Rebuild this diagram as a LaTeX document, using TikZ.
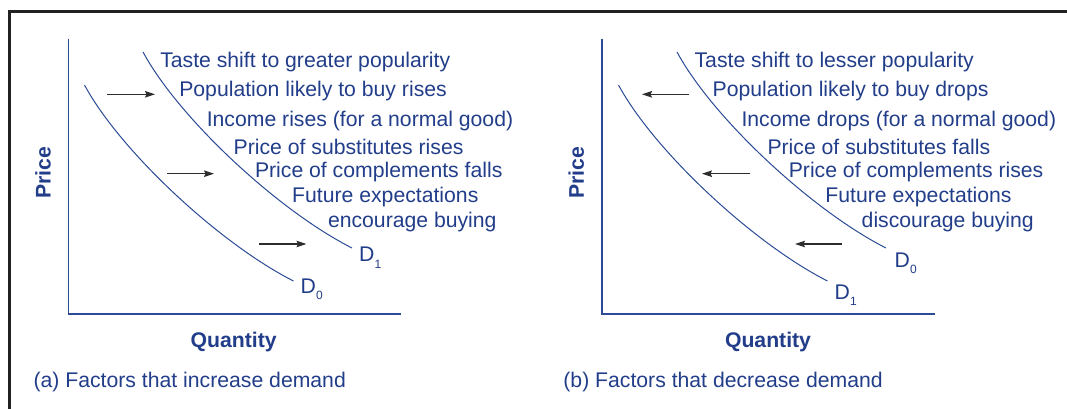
\documentclass[tikz,border=0pt]{standalone}
\usepackage{fontspec}
\setmainfont{Liberation Sans}
\usetikzlibrary{arrows.meta}
\definecolor{txtblue}{RGB}{34,62,138}
\definecolor{axblue}{RGB}{44,74,150}
\definecolor{arrgray}{RGB}{45,45,45}
\definecolor{framegray}{RGB}{34,34,34}
\begin{document}
\begin{tikzpicture}[x=1pt,y=-1pt,
  lbl/.style={font=\fontsize{21.2}{24}\selectfont, text=txtblue, inner sep=0pt, anchor=base west},
  axlbl/.style={font=\fontsize{21.2}{24}\selectfont\bfseries, text=txtblue, inner sep=0pt},
  dlbl/.style={font=\fontsize{21.2}{24}\selectfont, text=txtblue, inner sep=0pt, anchor=base west},
  axisline/.style={draw=axblue, line width=1.8pt},
  curveline/.style={draw=axblue, line width=1pt},
  shiftarrow/.style={draw=arrgray, line width=1.2pt, -{Stealth[length=10pt,width=6.5pt,inset=1.5pt]}},
  framebox/.style={draw=framegray, line width=3pt}
]
\useasboundingbox (0,0) rectangle (1067,409);
\fill[white] (0,0) rectangle (1067,409);
% frame
\draw[framebox] (9,415) -- (9,12) -- (1075,12);

\newcommand{\sub}[1]{\raisebox{-6.5pt}{\fontsize{12}{13}\selectfont #1}}

% ---------------- panel (a) ----------------
\coordinate (aO) at (68.4,314.3);
\coordinate (aY) at (68.4,38.6);
\coordinate (aX) at (400.5,314.3);
\draw[axisline] (aY) -- (aO) -- (aX);
\draw[curveline] (143,52) .. controls (178,117) and (277,210) .. (352,248);
\begin{scope}[shift={(-58.5,33)}]
\draw[curveline] (143,52) .. controls (178,117) and (277,210) .. (352,248);
\end{scope}
\node[dlbl] (aD1) at (359,261.7) {D\sub{1}};
\node[dlbl] (aD0) at (300.5,293.3) {D\sub{0}};

\node[lbl] (a1) at (160.1,67.7) {Taste shift to greater popularity};
\node[lbl] (a2) at (179.1,96.7) {Population likely to buy rises};
\node[lbl] (a3) at (206.6,126) {Income rises (for a normal good)};
\node[lbl] (a4) at (233.5,154.3) {Price of substitutes rises};
\node[lbl] (a5) at (254.8,177.7) {Price of complements falls};
\node[lbl] (a6) at (292,202.3) {Future expectations};
\node[lbl] (a7) at (327.8,227.8) {encourage buying};

\coordinate (aa1s) at (107,94.3); \coordinate (aa1e) at (155,94.3);
\coordinate (aa2s) at (167,173.7); \coordinate (aa2e) at (214,173.7);
\coordinate (aa3s) at (259,244); \coordinate (aa3e) at (306.5,244);
\draw[shiftarrow] (aa1s) -- (aa1e);
\draw[shiftarrow] (aa2s) -- (aa2e);
\draw[shiftarrow] (aa3s) -- (aa3e);

\node[axlbl, rotate=90] (aP) at (43,172.5) {Price};
\node[axlbl, anchor=base] (aQ) at (233.7,347.3) {Quantity};
\node[lbl] (aC) at (33.4,387.3) {(a) Factors that increase demand};

% ---------------- panel (b) ----------------
\coordinate (bO) at (601.9,314.3);
\coordinate (bY) at (601.9,38.6);
\coordinate (bX) at (935,314.3);
\draw[axisline] (bY) -- (bO) -- (bX);
\begin{scope}[shift={(534,0)}]
\draw[curveline] (143,52) .. controls (178,117) and (277,210) .. (352,248);
\end{scope}
\begin{scope}[shift={(475.5,33)}]
\draw[curveline] (143,52) .. controls (178,117) and (277,210) .. (352,248);
\end{scope}
\node[dlbl] (bD0) at (894.5,267.3) {D\sub{0}};
\node[dlbl] (bD1) at (834.5,299) {D\sub{1}};

\node[lbl] (b1) at (694.4,67.7) {Taste shift to lesser popularity};
\node[lbl] (b2) at (712.5,96.7) {Population likely to buy drops};
\node[lbl] (b3) at (741.3,126) {Income drops (for a normal good)};
\node[lbl] (b4) at (767.3,154.3) {Price of substitutes falls};
\node[lbl] (b5) at (788.6,177.7) {Price of complements rises};
\node[lbl] (b6) at (825.2,202.3) {Future expectations};
\node[lbl] (b7) at (861.5,227.8) {discourage buying};

\coordinate (ba1s) at (689,94.3); \coordinate (ba1e) at (642,94.3);
\coordinate (ba2s) at (750,173.7); \coordinate (ba2e) at (702,173.7);
\coordinate (ba3s) at (842,244); \coordinate (ba3e) at (795,244);
\draw[shiftarrow] (ba1s) -- (ba1e);
\draw[shiftarrow] (ba2s) -- (ba2e);
\draw[shiftarrow] (ba3s) -- (ba3e);

\node[axlbl, rotate=90] (bP) at (576.2,172.5) {Price};
\node[axlbl, anchor=base] (bQ) at (768,347.3) {Quantity};
\node[lbl] (bC) at (563.2,387.3) {(b) Factors that decrease demand};
\end{tikzpicture}
\end{document}
